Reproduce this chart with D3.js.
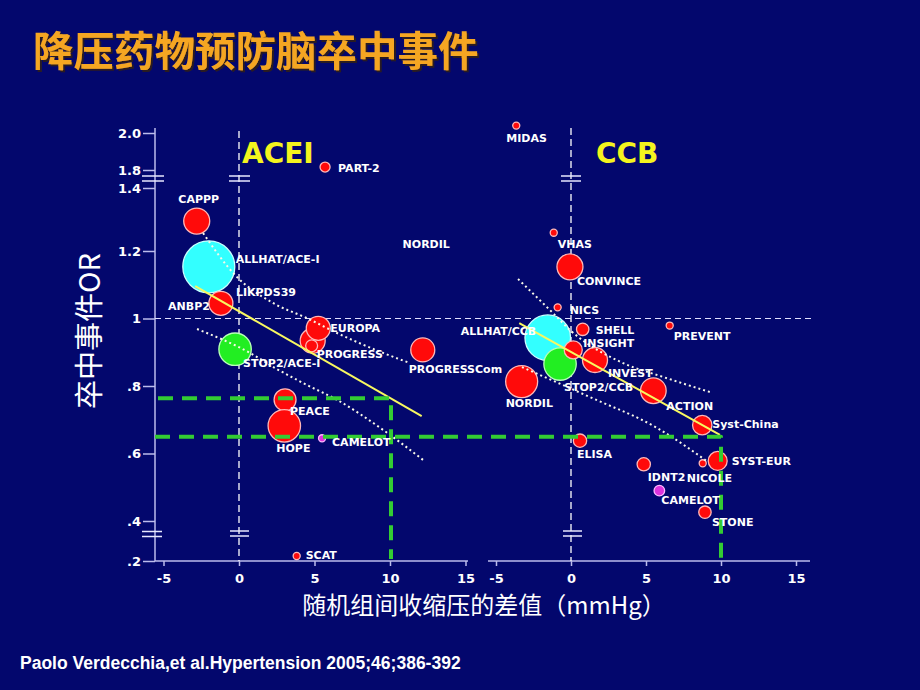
<!DOCTYPE html>
<html><head><meta charset="utf-8">
<script src="https://cdn.jsdelivr.net/npm/d3@7"></script>
<style>html,body{margin:0;padding:0;background:#03076d;} svg{display:block}</style>
</head><body>
<svg id="c" width="920" height="690"></svg>
<script>
// ---------------- DATA ----------------
const aceiTrials  = ["PART-2","CAPPP","ALLHAT/ACE-I","LIKPDS39","ANBP2","PROGRESS","EUROPA","PROGRESS-single","PROGRESSCom","STOP2/ACE-I","PEACE","HOPE","CAMELOT","SCAT"];
const aceiSbpDiff = [5.7, -2.8, -2.0, -1.0, -1.2, 4.88, 5.25, 4.81, 12.17, -0.26, 3.05, 3.0, 5.5, 3.82];
const aceiOR      = [1.816, 1.295, 1.153, 1.06, 1.045, 0.934, 0.971, 0.919, 0.907, 0.909, 0.759, 0.682, 0.645, 0.225];
const aceiWeight  = [26, 175, 700, 13, 149, 162, 149, 37, 149, 272, 125, 272, 13, 13];
const aceiGroup   = ["trial","trial","allhat","trial","trial","trial","trial","trial","trial","stop2","trial","trial","camelot","trial"];

const ccbTrials  = ["MIDAS","VHAS","CONVINCE","NICS","ALLHAT/CCB","SHELL","STOP2/CCB","INSIGHT","INVEST","NORDIL","ACTION","Syst-China","ELISA","PREVENT","SYST-EUR","NICOLE","IDNT2","CAMELOT","STONE"];
const ccbSbpDiff = [-3.65, -1.15, -0.07, -0.89, -1.55, 0.78, -0.73, 0.15, 1.6, -3.29, 5.49, 8.75, 0.6, 6.58, 9.78, 8.78, 4.85, 5.89, 8.93];
const ccbOR      = [2.04, 1.258, 1.153, 1.033, 0.943, 0.968, 0.865, 0.907, 0.877, 0.813, 0.786, 0.684, 0.638, 0.979, 0.578, 0.571, 0.568, 0.490, 0.426];
const ccbWeight  = [13, 13, 175, 13, 538, 40, 272, 84, 162, 265, 170, 97, 46, 13, 93, 13, 46, 29, 40];
const ccbGroup   = ["trial","trial","trial","trial","allhat","trial","stop2","trial","trial","trial","trial","trial","trial","trial","trial","trial","trial","camelot","trial"];

// regression lines and dotted confidence bands (SBP difference, OR)
const aceiFitSbp = [-2.9, 12.1];
const aceiFitOR  = [1.096, 0.711];
const aceiUpperSbp = [-2.38, -0.2, 2.25, 4.5, 6.49, 9.54, 11.32];
const aceiUpperOR  = [1.257, 1.126, 1.046, 1.001, 0.957, 0.898, 0.868];
const aceiLowerSbp = [-2.78, 0.73, 2.52, 4.5, 6.49, 9.54, 12.19];
const aceiLowerOR  = [0.969, 0.898, 0.850, 0.803, 0.759, 0.670, 0.581];

const ccbFitSbp = [-3.45, 9.93];
const ccbFitOR  = [0.986, 0.655];
const ccbUpperSbp = [-3.53, -1.2, -0.07, 3.47, 6.13, 9.27];
const ccbUpperOR  = [1.117, 1.016, 0.966, 0.868, 0.827, 0.782];
const ccbLowerSbp = [-3.27, 1.27, 5.73, 9.13];
const ccbLowerOR  = [0.856, 0.767, 0.676, 0.575];

// reference guides: 10 mmHg difference and the ORs reached
const refSbp = 10;
const refOR  = [0.764, 0.65];

// stray label in the ACEI panel
const aceiNoteText = "NORDIL", aceiNoteSbp = 12.4, aceiNoteOR = 1.21;

// ticks
const xTicks = [-5, 0, 5, 10, 15];
const yTickValues = [2.0, 1.8, 1.4, 1.2, 1.0, 0.8, 0.6, 0.4, 0.2];
const yTickLabels = ["2.0","1.8","1.4","1.2","1",".8",".6",".4",".2"];

const titleText = "降压药物预防脑卒中事件";
const yTitle = "卒中事件OR";
const xTitle = "随机组间收缩压的差值（mmHg）";
const sourceText = "Paolo Verdecchia,et al.Hypertension 2005;46;386-392";

// ---------------- LAYOUT ----------------
const labelOffset = {
  "acei": {
    "PART-2":[13,5], "CAPPP":[2,-18,"middle"], "ALLHAT/ACE-I":[27,-4], "LIKPDS39":[12,-2],
    "ANBP2":[-11,7,"end"], "EUROPA":[12,4], "PROGRESS":[4,17], "PROGRESSCom":[-14,23],
    "STOP2/ACE-I":[8,18], "PEACE":[5,15], "HOPE":[-8,26], "CAMELOT":[10,8], "SCAT":[9,3]
  },
  "ccb": {
    "MIDAS":[-10,16], "VHAS":[4,15], "CONVINCE":[7,18], "NICS":[12,7], "ALLHAT/CCB":[-87,-3],
    "SHELL":[13,5], "INSIGHT":[10,-3], "STOP2/CCB":[4,27], "INVEST":[13,17], "NORDIL":[-16,25],
    "ACTION":[13,19], "Syst-China":[10,3], "ELISA":[-3,17], "PREVENT":[4,14], "SYST-EUR":[14,4],
    "NICOLE":[-16,19], "IDNT2":[4,17], "CAMELOT":[2,13], "STONE":[7,14]
  }
};
const groupFill   = {trial:"#ff0a0a", allhat:"#33ffff", stop2:"#22ee22", camelot:"#dd33dd"};
const groupStroke = {trial:"#ffb8b8", allhat:"#c8ffff", stop2:"#b8ffb8", camelot:"#ffb8ff"};

const svg = d3.select("#c");
const defs = svg.append("defs");
const f = defs.append("filter").attr("id","tshadow").attr("x","-5%").attr("y","-20%").attr("width","115%").attr("height","150%");
f.append("feDropShadow").attr("dx",2).attr("dy",2).attr("stdDeviation",0.6).attr("flood-color","#2a1a20").attr("flood-opacity",1);

svg.append("rect").attr("width",920).attr("height",690).attr("fill","#03076d");

const xL = d3.scaleLinear().domain([-5,15]).range([163.5,465.5]);
const xR = d3.scaleLinear().domain([-5,15]).range([496,796]);
const y  = d3.scaleLinear().domain([0.2,0.4,1.2,1.4,1.8,2.0]).range([561,521,251,188,170,133]);
const r  = d3.scaleSqrt().domain([0,700]).range([0,26]);

const axisCol = "#bcbcec";
const AX0 = 155, AXB = 561;

// Title
svg.append("text").attr("x",33).attr("y",65.5).attr("font-family","'Noto Sans CJK SC'").attr("font-weight",700)
  .attr("font-size",40.5).attr("fill","#f5a623").attr("filter","url(#tshadow)").text(titleText);

// Y axis
svg.append("line").attr("x1",AX0).attr("x2",AX0).attr("y1",128).attr("y2",AXB).attr("stroke",axisCol).attr("stroke-width",1.5);
const ya = svg.append("g").attr("transform",`translate(${AX0},0)`)
  .call(d3.axisLeft(y).tickValues(yTickValues).tickFormat((d,i)=>yTickLabels[i]).tickSize(12).tickPadding(2));
ya.select(".domain").remove();
ya.selectAll("line").attr("stroke",axisCol).attr("stroke-width",1.5);
ya.selectAll("text").attr("fill","#fff").attr("font-family","'DejaVu Sans'").attr("font-weight","bold").attr("font-size",13);

// X axes
function xAxis(sc, x1, x2){
  svg.append("line").attr("x1",x1).attr("x2",x2).attr("y1",AXB).attr("y2",AXB).attr("stroke",axisCol).attr("stroke-width",1.5);
  const g = svg.append("g").attr("transform",`translate(0,${AXB})`)
    .call(d3.axisBottom(sc).tickValues(xTicks).tickFormat(d=>String(d)).tickSize(5).tickPadding(8));
  g.select(".domain").remove();
  g.selectAll("line").attr("stroke",axisCol).attr("stroke-width",1.5);
  g.selectAll("text").attr("fill","#fff").attr("font-family","'DejaVu Sans'").attr("font-weight","bold").attr("font-size",13);
}
xAxis(xL, AX0, 468);
xAxis(xR, 488, 810);

// Dashed zero lines and OR=1
svg.append("line").attr("x1",xL(0)).attr("x2",xL(0)).attr("y1",131).attr("y2",AXB)
  .attr("stroke","#fff").attr("stroke-width",1.3).attr("stroke-dasharray","7,4");
svg.append("line").attr("x1",xR(0)).attr("x2",xR(0)).attr("y1",128).attr("y2",AXB)
  .attr("stroke","#fff").attr("stroke-width",1.3).attr("stroke-dasharray","7,4");
svg.append("line").attr("x1",AX0).attr("x2",812).attr("y1",y(1)).attr("y2",y(1))
  .attr("stroke","#e0e0ff").attr("stroke-width",1.2).attr("stroke-dasharray","6,4");

// Axis break marks
function brk(cx, yy, halfL, halfR){
  [0,5].forEach(o=>{
    svg.append("line").attr("x1",cx-halfL).attr("x2",cx+halfR).attr("y1",yy+o).attr("y2",yy+o)
      .attr("stroke","#e8e8ff").attr("stroke-width",1.5);
  });
}
brk(AX0,176,13,9); brk(AX0,531.5,13,7);
brk(xL(0),176,10,11); brk(xL(0),531,9,10);
brk(xR(0),176,10,10); brk(xR(0),531,8,11);

// Bubbles
function bubbles(names, xs, ors, ws, gs, sc){
  const data = names.map((n,i)=>({n, x:xs[i], o:ors[i], w:ws[i], g:gs[i]}));
  svg.append("g").selectAll("circle").data(data).join("circle")
    .attr("cx",d=>sc(d.x)).attr("cy",d=>y(d.o)).attr("r",d=>r(d.w))
    .attr("fill",d=>groupFill[d.g]).attr("stroke",d=>groupStroke[d.g]).attr("stroke-width",1.3);
  return data;
}
const aceiData = bubbles(aceiTrials, aceiSbpDiff, aceiOR, aceiWeight, aceiGroup, xL);
const ccbData  = bubbles(ccbTrials, ccbSbpDiff, ccbOR, ccbWeight, ccbGroup, xR);

// Regression + bands
function lines(sc, fitX, fitY, upX, upY, loX, loY){
  const ln = d3.line().x(d=>sc(d[0])).y(d=>y(d[1])).curve(d3.curveMonotoneX);
  [[upX,upY],[loX,loY]].forEach(([xs,ys])=>{
    svg.append("path").attr("d",ln(xs.map((v,i)=>[v,ys[i]])))
      .attr("fill","none").attr("stroke","#f8f8e8").attr("stroke-width",2).attr("stroke-dasharray","2,3");
  });
  svg.append("path").attr("d",d3.line().x(d=>sc(d[0])).y(d=>y(d[1]))(fitX.map((v,i)=>[v,fitY[i]])))
    .attr("fill","none").attr("stroke","#f8f860").attr("stroke-width",2);
}
lines(xL, aceiFitSbp, aceiFitOR, aceiUpperSbp, aceiUpperOR, aceiLowerSbp, aceiLowerOR);
lines(xR, ccbFitSbp, ccbFitOR, ccbUpperSbp, ccbUpperOR, ccbLowerSbp, ccbLowerOR);

// Green reference guides
const gStyle = p => p.attr("fill","none").attr("stroke","#33cc33").attr("stroke-width",4)
  .attr("stroke-dasharray","15,9").attr("stroke-linejoin","round");
svg.append("path").attr("d",`M${AX0+3},${y(refOR[0])}H${xL(refSbp)+1}V${AXB-2}`).call(gStyle);
svg.append("path").attr("d",`M${AX0},${y(refOR[1])}H${xR(refSbp)}V${AXB-2}`).call(gStyle);

// Labels
function labels(data, sc, key){
  const g = svg.append("g").attr("font-family","'DejaVu Sans'").attr("font-weight","bold").attr("font-size",11).attr("fill","#fff");
  data.filter(d=>labelOffset[key][d.n]).forEach(d=>{
    const o = labelOffset[key][d.n];
    g.append("text").attr("x",sc(d.x)+o[0]).attr("y",y(d.o)+o[1]).attr("text-anchor",o[2]||"start").text(d.n);
  });
  return g;
}
const gl = labels(aceiData, xL, "acei");
labels(ccbData, xR, "ccb");
gl.append("text").attr("x",xL(aceiNoteSbp)).attr("y",y(aceiNoteOR)).attr("text-anchor","middle").text(aceiNoteText);

// Panel labels
const pg = svg.append("g").attr("font-family","'DejaVu Sans'").attr("font-weight","bold").attr("font-size",28).attr("fill","#f4f41e");
pg.append("text").attr("x",xL(0)+3).attr("y",163).text("ACEI");
pg.append("text").attr("x",xR(0)+25).attr("y",163).text("CCB");

// Axis titles
svg.append("text").attr("transform",`translate(87,331) rotate(-90)`).attr("text-anchor","middle")
  .attr("dominant-baseline","central").attr("font-family","'Noto Sans CJK SC'").attr("font-size",29).attr("fill","#fff").text(yTitle);
svg.append("text").attr("x",484).attr("y",603).attr("text-anchor","middle")
  .attr("dominant-baseline","central").attr("font-family","'Noto Sans CJK SC'").attr("font-size",24).attr("fill","#fff").text(xTitle);

// Source
svg.append("text").attr("x",20).attr("y",669).attr("font-family","'Liberation Sans'").attr("font-weight","bold")
  .attr("font-size",17.5).attr("fill","#fff").text(sourceText);
</script>
</body></html>
